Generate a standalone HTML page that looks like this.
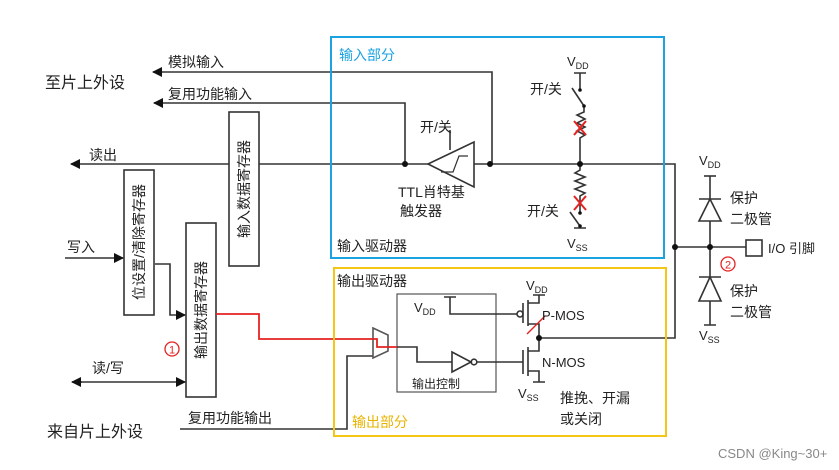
<!DOCTYPE html>
<html><head><meta charset="utf-8"><style>
html,body{margin:0;padding:0;background:#fff;}
svg{display:block;}
text{font-family:"Liberation Sans","Noto Sans CJK SC",sans-serif;fill:#222;}
</style></head><body>
<svg width="839" height="470" viewBox="0 0 839 470" xmlns="http://www.w3.org/2000/svg">
<defs>
<marker id="a" markerWidth="10" markerHeight="10" refX="9" refY="5" orient="auto" markerUnits="userSpaceOnUse"><path d="M0,0 L10,5 L0,10 Z" fill="#111"/></marker>
</defs>
<g stroke="#333" stroke-width="1.6" fill="none">
<!-- top arrows -->
<path d="M492,164 V72 H153" marker-end="url(#a)"/>
<path d="M405,164 V103 H154" marker-end="url(#a)"/>
<path d="M229,164 H71" marker-end="url(#a)"/>
<path d="M259,164 H428"/>
<path d="M474,164 H675 V338 H539"/>
<rect x="229" y="112" width="30" height="154"/>
<!-- left boxes -->
<rect x="124" y="170" width="30" height="145"/>
<rect x="186" y="223" width="30" height="174"/>
<path d="M65,258 H123" marker-end="url(#a)"/>
<path d="M155,264 H170 V315 H185" marker-end="url(#a)"/>
<path d="M80,382 H185" marker-end="url(#a)"/>
<path d="M82,382 H72" marker-end="url(#a)"/>
<path d="M180,429 H347 V356 H373"/>
<!-- schmitt -->
<path d="M428,164 L474,142 L474,187 Z" fill="#fff"/>
<path d="M441,172 H453 L459,156 H468 M453,172 L459,156" stroke-width="1.2"/>
<path d="M450,130 V150"/>
<!-- pull up -->
<path d="M574,73 H586 M580,73 V90"/>
<path d="M572,88 L584,106"/>
<path d="M584,106 V112 L577,115 L585,119 L577,123 L585,127 L577,131 L585,135 L580,138 V164"/>
<path d="M580,164 V170 L575,173 L585,177 L575,181 L585,185 L575,189 L585,193 L580,196 V213"/>
<path d="M570,212 L580,226 V228 M574,228 H586"/>
<!-- output part -->
<rect x="397" y="294" width="99" height="98" stroke="#555" stroke-width="1.2"/>
<path d="M444,297 H456 M450,297 V314 H517"/>
<path d="M373,328 L388,335 L388,351 L373,358 Z" stroke="#555"/>
<path d="M397,347 H417 V362 H452"/>
<path d="M452,352 L471,362 L452,372 Z"/>
<circle cx="474" cy="362" r="2.8"/>
<path d="M477,362 H523"/>
<path d="M523,303 V323 M528,300 V326 M528,303 H539 V295 M533,295 H545 M528,324 H539 V338"/>
<circle cx="520" cy="314" r="3"/>
<path d="M523,350 V374 M528,347 V376 M528,351 H539 V338 M528,371 H539 V382 M533,382 H545"/>
<!-- right diodes -->
<path d="M675,247 H746"/>
<rect x="746" y="240" width="16" height="16"/>
<path d="M710,176 V199 M699,199 H721 M710,199 L699,221 H721 Z M710,221 V277 M699,277 H721 M710,277 L699,301 H721 Z M710,301 V325 M704,325 H716"/>
<path d="M704,176 H716"/>
</g>
<!-- red -->
<g stroke="#e52222" stroke-width="1.8" fill="none">
<path d="M216,314 H259 V339 H377 V347 H397"/>
<path d="M574,121 L586,135 M586,121 L574,135 M574,196 L586,210 M586,196 L574,210" stroke-width="2"/>
<path d="M527,334 L545,316" stroke-width="1.4"/>
<circle cx="172" cy="349" r="7" stroke-width="1.3"/>
<circle cx="728" cy="264" r="7" stroke-width="1.3"/>
</g>
<text x="172" y="353.5" font-size="11" text-anchor="middle" style="fill:#e52222">1</text>
<text x="728" y="268.5" font-size="11" text-anchor="middle" style="fill:#e52222">2</text>
<g fill="#111">
<circle cx="405" cy="164" r="3"/><circle cx="490" cy="164" r="3"/><circle cx="580" cy="164" r="3"/>
<circle cx="580" cy="90" r="1.8"/><circle cx="584" cy="106" r="1.8"/><circle cx="580" cy="213" r="1.8"/><circle cx="580" cy="226" r="1.8"/>
<circle cx="539" cy="338" r="3"/><circle cx="675" cy="247" r="3"/><circle cx="710" cy="247" r="3"/>
</g>
<!-- boxes -->
<rect x="331" y="37" width="333" height="221" fill="none" stroke="#1aa3e0" stroke-width="2"/>
<rect x="334" y="268" width="332" height="168" fill="none" stroke="#f5c518" stroke-width="2"/>
<!-- text -->
<g font-size="14">
<text x="45" y="88" font-size="16">至片上外设</text>
<text x="168" y="67">模拟输入</text>
<text x="168" y="99">复用功能输入</text>
<text x="89" y="160">读出</text>
<text x="67" y="252">写入</text>
<text x="92" y="373">读/写</text>
<text x="188" y="423">复用功能输出</text>
<text x="47" y="437" font-size="16">来自片上外设</text>
<text x="339" y="60" style="fill:#1aa3e0">输入部分</text>
<text x="337" y="251">输入驱动器</text>
<text x="337" y="286">输出驱动器</text>
<text x="352" y="427" style="fill:#e8b400">输出部分</text>
<text x="420" y="132">开/关</text>
<text x="398" y="197">TTL肖特基</text>
<text x="400" y="216">触发器</text>
<text x="530" y="94">开/关</text>
<text x="527" y="216">开/关</text>
<text x="560" y="403">推挽、开漏</text>
<text x="560" y="424">或关闭</text>
<text x="730" y="203">保护</text>
<text x="730" y="224">二极管</text>
<text x="730" y="296">保护</text>
<text x="730" y="317">二极管</text>
<text x="768" y="253" font-size="13">I/O 引脚</text>
</g>
<g font-size="13">
<text x="412" y="388" font-size="12">输出控制</text>
<text x="567" y="66">V<tspan font-size="9" dy="3">DD</tspan></text>
<text x="567" y="248">V<tspan font-size="9" dy="3">SS</tspan></text>
<text x="414" y="312">V<tspan font-size="9" dy="3">DD</tspan></text>
<text x="526" y="290">V<tspan font-size="9" dy="3">DD</tspan></text>
<text x="518" y="398">V<tspan font-size="9" dy="3">SS</tspan></text>
<text x="542" y="320">P-MOS</text>
<text x="542" y="367">N-MOS</text>
<text x="699" y="165">V<tspan font-size="9" dy="3">DD</tspan></text>
<text x="699" y="340">V<tspan font-size="9" dy="3">SS</tspan></text>
<text x="718" y="458" style="fill:#888">CSDN @King~30+</text>
</g>
<!-- vertical labels -->
<g font-size="14">
<text transform="translate(249,189) rotate(-90)" text-anchor="middle">输入数据寄存器</text>
<text transform="translate(144,242) rotate(-90)" text-anchor="middle">位设置/清除寄存器</text>
<text transform="translate(206,310) rotate(-90)" text-anchor="middle">输出数据寄存器</text>
</g>
</svg>
</body></html>
